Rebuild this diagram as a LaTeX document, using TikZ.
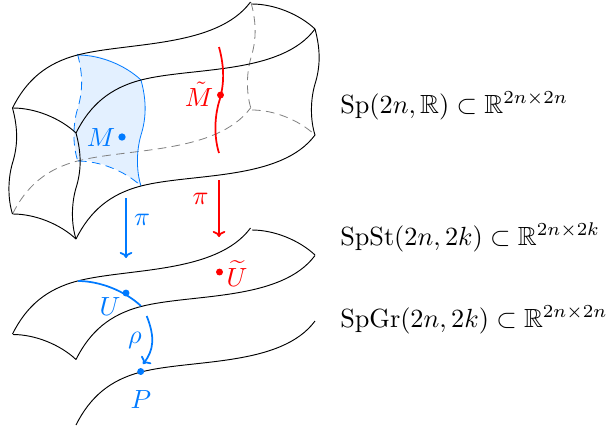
\documentclass[tikz,border=0pt]{standalone}
\usepackage{amsmath,amssymb,graphicx}
\usetikzlibrary{arrows.meta}
\definecolor{bl}{RGB}{0,122,255}
\definecolor{rd}{RGB}{255,0,0}
\newcommand{\wigp}{(0,0) .. controls (6,22) and (5,39) .. (0,55) .. controls (-5,72) and (-4.5,92) .. (0,106)}
\newcommand{\frontp}{(0,0) .. controls (14,-28) and (34,-45) .. (65,-53) .. controls (115,-66) and (205,-58) .. (239,-104)}
\newcommand{\backp}{(0,0) .. controls (14,-28) and (34,-45) .. (65,-53) .. controls (115,-66) and (204,-60) .. (238,-106)}
\newcommand{\sidep}{(-63,-25) .. controls (-41,-25) and (-16,-15) .. (0,0)}
\newcommand{\bigt}[1]{\scalebox{1.97}{#1}}
\tikzset{
  x=0.75pt,y=-0.75pt,
  edgeline/.style={draw=black,line width=0.7pt},
  hidden/.style={draw=black!50,line width=0.6pt,dash pattern=on 6.5pt off 4pt},
  blueline/.style={draw=bl,line width=0.6pt},
  bluedash/.style={draw=bl,line width=0.6pt,dash pattern=on 6.5pt off 4pt},
  thickb/.style={draw=bl,line width=1.3pt},
  thickr/.style={draw=rd,line width=1.3pt},
  maparrow/.style={-{To[length=4.5pt,width=9.5pt]}},
  lab/.style={inner sep=0pt},
  dotb/.style={circle,fill=bl,inner sep=0pt,minimum size=5.2pt},
  dotr/.style={circle,fill=rd,inner sep=0pt,minimum size=5.2pt},
  spacelab/.style={anchor=base west,inner sep=0pt}
}
\begin{document}
\begin{tikzpicture}
\useasboundingbox (0,0) rectangle (606,430);
% blue patch
\fill[bl!11] (77.5,54) .. controls (100,54) and (125,64) .. (141,80)
  .. controls (147,102) and (146,119) .. (141,135) .. controls (136,152) and (136.5,172) .. (141,186)
  .. controls (125,171) and (100,161) .. (77.5,159)
  .. controls (73,145) and (72.5,126) .. (77.5,109) .. controls (82.5,93) and (83.5,76) .. (77.5,54);
% hidden edges
\begin{scope}[shift={(12.5,214)}]\draw[hidden] \backp;\end{scope}
\begin{scope}[shift={(315,135)}]\draw[hidden] \sidep;\end{scope}
\begin{scope}[shift={(251,2.5)}]\draw[hidden] \wigp;\end{scope}
% blue patch edges
\begin{scope}[shift={(141,80)}]\draw[blueline] \sidep;\draw[blueline] \wigp;\end{scope}
\begin{scope}[shift={(141,186)}]\draw[bluedash] \sidep;\end{scope}
\begin{scope}[shift={(77.5,54)}]\draw[bluedash] \wigp;\end{scope}
% upper solid
\begin{scope}[shift={(12.5,108)}]\draw[edgeline] \backp;\draw[edgeline] \wigp;\end{scope}
\begin{scope}[shift={(76,133)}]\draw[edgeline] \frontp;\draw[edgeline] \sidep;\draw[edgeline] \wigp;\end{scope}
\begin{scope}[shift={(76,239)}]\draw[edgeline] \frontp;\draw[edgeline] \sidep;\end{scope}
\begin{scope}[shift={(315,29)}]\draw[edgeline] \sidep;\draw[edgeline] \wigp;\end{scope}
% red curve
\begin{scope}[shift={(219,47)}]\draw[thickr] \wigp;\end{scope}
% middle surface
\begin{scope}[shift={(12.5,334)}]\draw[edgeline] \backp;\end{scope}
\begin{scope}[shift={(76,359.5)}]\draw[edgeline] \frontp;\draw[edgeline] \sidep;\end{scope}
\begin{scope}[shift={(315,255)}]\draw[edgeline] \sidep;\end{scope}
\begin{scope}[shift={(141,306)}]\draw[thickb] \sidep;\end{scope}
% bottom curve
\begin{scope}[shift={(76,425)}]\draw[edgeline] \frontp;\end{scope}
% dots and labels
\node[dotb,minimum size=5.5pt] (dM) at (122,137) {};
\node[dotr] (dMt) at (220.5,95) {};
\node[dotr] (dUt) at (219.5,272) {};
\node[dotb] (dU) at (126,293) {};
\node[dotb] (dP) at (140.7,371.5) {};
\node[lab,text=bl] (M) at (101,138) {\bigt{$M$}};
\node[lab,text=rd] (Mt) at (199,94) {\bigt{$\tilde M$}};
\node[lab,text=bl] (pib) at (142,220) {\bigt{$\pi$}};
\node[lab,text=rd] (pir) at (200.5,199) {\bigt{$\pi$}};
\node[lab,text=rd] (Ut) at (237,273.5) {\bigt{$\widetilde U$}};
\node[lab,text=bl] (U) at (110,307) {\bigt{$U$}};
\node[lab,text=bl] (rho) at (135,340) {\bigt{$\rho$}};
\node[lab,text=bl] (P) at (141,400) {\bigt{$P$}};
% arrows
\coordinate (ab1) at (126,198); \coordinate (ab2) at (126,258);
\coordinate (ar1) at (219,180); \coordinate (ar2) at (219,237);
\coordinate (rh1) at (146.7,316); \coordinate (rh2) at (143,364);
\draw[thickb,maparrow] (ab1) -- (ab2);
\draw[thickr,maparrow] (ar1) -- (ar2);
\draw[thickb,maparrow] (rh1) .. controls (155,337) and (154,350) .. (rh2);
% space labels
\node[spacelab] (s1) at (340,113.5) {\bigt{$\mathrm{Sp}(2n,\mathbb{R})\subset\mathbb{R}^{2n\times 2n}$}};
\node[spacelab] (s2) at (340,245) {\bigt{$\mathrm{SpSt}(2n,2k)\subset\mathbb{R}^{2n\times 2k}$}};
\node[spacelab] (s3) at (340,327) {\bigt{$\mathrm{SpGr}(2n,2k)\subset\mathbb{R}^{2n\times 2n}$}};
\end{tikzpicture}
\end{document}
